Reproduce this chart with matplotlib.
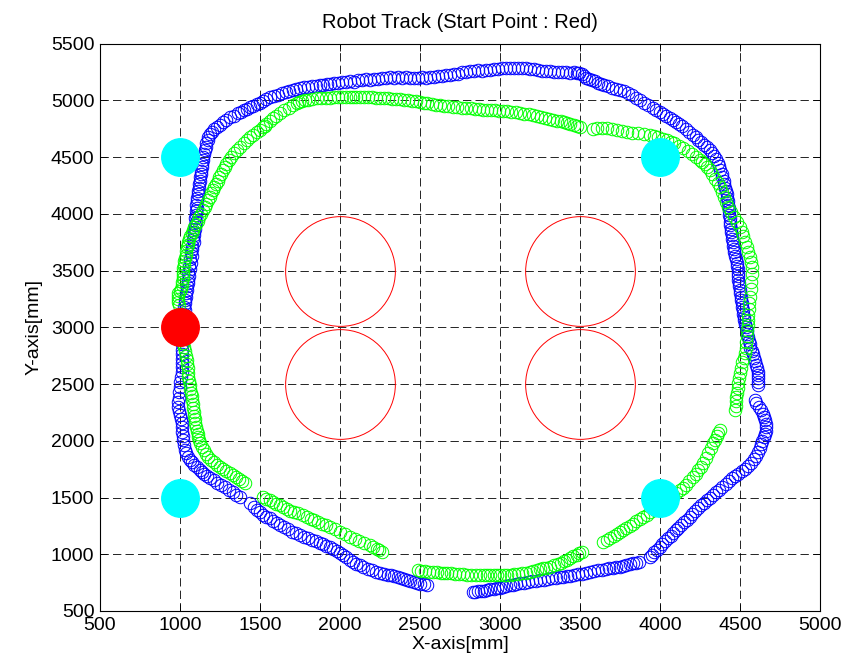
import numpy as np
import matplotlib.pyplot as plt

plt.rcParams['font.family'] = ['Liberation Sans', 'DejaVu Sans']
plt.rcParams['lines.scale_dashes'] = False

# robot track 1 (blue), mm
blue_track = np.array([
    (1015, 3000), (1020, 3030), (1018, 3060), (1026, 3090), (1024, 3120), (1030, 3150),
    (1027, 3180), (1034, 3210), (1031, 3240), (1038, 3270), (1036, 3300), (1044, 3330),
    (1042, 3360), (1050, 3390), (1047, 3420), (1054, 3450), (1053, 3480), (1060, 3510),
    (1058, 3540), (1066, 3570), (1064, 3600), (1072, 3630), (1070, 3660), (1078, 3690),
    (1078, 3720), (1086, 3750), (1083, 3780), (1090, 3810), (1088, 3840), (1095, 3870),
    (1093, 3900), (1099, 3930), (1096, 3960), (1102, 3990), (1099, 4020), (1105, 4050),
    (1102, 4080), (1108, 4110), (1106, 4140), (1113, 4170), (1111, 4200), (1118, 4230),
    (1116, 4260), (1124, 4290), (1122, 4320), (1131, 4350), (1129, 4380), (1138, 4410),
    (1136, 4440), (1146, 4470), (1145, 4500), (1153, 4530), (1154, 4560), (1162, 4590),
    (1163, 4620), (1172, 4650), (1177, 4676), (1188, 4700), (1200, 4720), (1215, 4745),
    (1230, 4764), (1250, 4782), (1270, 4805), (1290, 4825), (1312, 4852), (1335, 4865),
    (1360, 4885), (1380, 4898), (1400, 4915), (1420, 4925), (1437, 4940), (1458, 4950),
    (1480, 4965), (1500, 4978), (1520, 4995), (1540, 5010), (1562, 5029), (1585, 5035),
    (1610, 5050), (1635, 5060), (1660, 5072), (1683, 5080), (1706, 5090), (1728, 5100),
    (1750, 5105), (1775, 5115), (1800, 5118), (1825, 5125), (1850, 5128), (1872, 5135),
    (1894, 5134), (1917, 5142), (1940, 5142), (1965, 5150), (1990, 5150), (2015, 5158),
    (2040, 5158), (2065, 5166), (2090, 5165), (2115, 5175), (2140, 5175), (2165, 5183),
    (2190, 5182), (2215, 5190), (2240, 5190), (2265, 5197), (2290, 5196), (2315, 5202),
    (2340, 5200), (2365, 5205), (2390, 5200), (2415, 5203), (2440, 5198), (2465, 5200),
    (2490, 5195), (2515, 5202), (2540, 5200), (2565, 5208), (2590, 5205), (2615, 5215),
    (2640, 5212), (2665, 5222), (2690, 5220), (2715, 5232), (2740, 5230), (2765, 5245),
    (2790, 5245), (2815, 5256), (2840, 5255), (2865, 5265), (2890, 5262), (2915, 5270),
    (2940, 5268), (2965, 5278), (2990, 5275), (3015, 5283), (3040, 5280), (3065, 5286),
    (3090, 5283), (3115, 5285), (3140, 5282), (3165, 5280), (3190, 5275), (3215, 5272),
    (3240, 5265), (3265, 5262), (3290, 5255), (3315, 5255), (3340, 5248), (3365, 5250),
    (3390, 5245), (3415, 5248), (3440, 5243), (3460, 5245), (3480, 5240), (3495, 5238),
    (3510, 5230), (3525, 5215), (3540, 5200), (3558, 5190), (3575, 5175), (3592, 5168),
    (3610, 5155), (3630, 5147), (3650, 5135), (3675, 5125), (3700, 5112), (3725, 5103),
    (3750, 5090), (3775, 5078), (3800, 5060), (3825, 5042), (3850, 5020), (3875, 5003),
    (3900, 4980), (3928, 4960), (3956, 4932), (3978, 4918), (4000, 4895), (4020, 4880),
    (4040, 4860), (4060, 4845), (4081, 4826), (4100, 4810), (4120, 4790), (4140, 4770),
    (4160, 4745), (4183, 4722), (4206, 4694), (4223, 4675), (4240, 4650), (4258, 4630),
    (4275, 4605), (4293, 4585), (4312, 4562), (4328, 4538), (4340, 4510), (4352, 4480),
    (4360, 4450), (4370, 4418), (4375, 4385), (4385, 4352), (4390, 4320), (4397, 4290),
    (4400, 4260), (4407, 4230), (4410, 4200), (4417, 4170), (4420, 4140), (4424, 4110),
    (4425, 4080), (4429, 4050), (4430, 4020), (4434, 3990), (4435, 3960), (4439, 3930),
    (4440, 3900), (4444, 3870), (4445, 3840), (4449, 3810), (4450, 3780), (4455, 3750),
    (4456, 3720), (4462, 3690), (4465, 3660), (4471, 3630), (4475, 3600), (4480, 3570),
    (4482, 3540), (4486, 3510), (4487, 3480), (4490, 3450), (4490, 3420), (4494, 3390),
    (4495, 3360), (4499, 3330), (4500, 3300), (4505, 3270), (4508, 3240), (4513, 3210),
    (4515, 3180), (4519, 3150), (4520, 3120), (4524, 3090), (4525, 3060), (4531, 3030),
    (4535, 3000), (4541, 2970), (4545, 2940), (4551, 2910), (4555, 2880), (4561, 2850),
    (4565, 2820), (4574, 2790), (4580, 2760), (4589, 2730), (4595, 2700), (4601, 2670),
    (4605, 2640), (4610, 2610), (4612, 2580), (4615, 2550), (4615, 2520), (4612, 2495),
    (4594, 2359), (4600, 2330), (4620, 2300), (4630, 2270), (4644, 2240), (4650, 2210),
    (4656, 2180), (4660, 2150), (4660, 2120), (4660, 2090), (4656, 2060), (4648, 2030),
    (4640, 2000), (4633, 1970), (4625, 1940), (4613, 1905), (4600, 1870), (4585, 1835),
    (4570, 1800), (4550, 1775), (4530, 1750), (4510, 1730), (4490, 1710), (4470, 1690),
    (4450, 1670), (4430, 1645), (4410, 1620), (4390, 1595), (4370, 1570), (4350, 1545),
    (4330, 1520), (4312, 1500), (4294, 1478), (4275, 1455), (4255, 1430), (4238, 1408),
    (4220, 1385), (4203, 1356), (4187, 1328), (4168, 1304), (4150, 1280), (4133, 1258),
    (4115, 1235), (4098, 1211), (4081, 1187), (4066, 1163), (4050, 1140), (4032, 1115),
    (4015, 1090), (3998, 1063), (3981, 1037), (3965, 1016), (3950, 995), (3937, 976),
    (3870, 935), (3850, 920), (3831, 922), (3810, 910), (3790, 905), (3770, 895),
    (3750, 890), (3728, 885), (3706, 879), (3683, 875), (3660, 868), (3635, 865),
    (3610, 858), (3586, 852), (3562, 844), (3536, 838), (3510, 830), (3485, 823),
    (3460, 815), (3440, 812), (3420, 805), (3394, 800), (3372, 796), (3350, 790),
    (3325, 787), (3300, 780), (3275, 776), (3250, 770), (3225, 766), (3200, 760),
    (3175, 756), (3150, 750), (3125, 743), (3100, 735), (3080, 731), (3060, 725),
    (3040, 718), (3019, 711), (3000, 706), (2980, 700), (2960, 696), (2940, 690),
    (2920, 685), (2900, 680), (2880, 676), (2860, 672), (2845, 668), (2831, 667),
    (2544, 729), (2522, 735), (2500, 740), (2480, 748), (2460, 755), (2440, 764),
    (2419, 773), (2400, 782), (2380, 790), (2360, 798), (2340, 805), (2320, 813),
    (2300, 820), (2275, 828), (2250, 835), (2225, 847), (2200, 858), (2172, 873),
    (2144, 888), (2122, 902), (2100, 915), (2080, 932), (2060, 950), (2040, 972),
    (2019, 993), (2000, 1012), (1980, 1030), (1958, 1048), (1937, 1064), (1915, 1077),
    (1894, 1090), (1872, 1103), (1850, 1115), (1825, 1128), (1800, 1140), (1775, 1155),
    (1750, 1170), (1725, 1185), (1700, 1200), (1675, 1220), (1650, 1240), (1628, 1258),
    (1606, 1275), (1583, 1295), (1560, 1315), (1540, 1332), (1520, 1350), (1500, 1370),
    (1481, 1390), (1460, 1420), (1437, 1452),
    (1375, 1504), (1352, 1525), (1330, 1545), (1305, 1568), (1280, 1590), (1255, 1610),
    (1231, 1628), (1210, 1650), (1190, 1670), (1170, 1690), (1150, 1710), (1138, 1726),
    (1125, 1742), (1108, 1766), (1090, 1790), (1075, 1810), (1060, 1830), (1050, 1857),
    (1040, 1890), (1030, 1920), (1024, 1965), (1019, 2007), (1017, 2045), (1015, 2080),
    (1014, 2120), (1012, 2156), (1005, 2195), (1000, 2230), (994, 2265), (989, 2297),
    (990, 2340), (992, 2380), (996, 2430), (1000, 2474), (1002, 2515), (1005, 2560),
    (1010, 2605), (1012, 2650), (1012, 2685), (1012, 2720), (1012, 2760), (1012, 2800),
    (1014, 2850), (1015, 2900), (1015, 2950),
])

# robot track 2 (green)
green_track = np.array([
    (1010, 3000), (1012, 2965), (1015, 2930), (1017, 2895), (1019, 2861), (1025, 2825),
    (1030, 2790), (1037, 2750), (1044, 2711), (1046, 2675), (1047, 2640), (1049, 2600),
    (1050, 2562), (1055, 2525), (1060, 2490), (1064, 2455), (1068, 2420), (1072, 2390),
    (1075, 2359), (1079, 2325), (1082, 2290), (1085, 2255), (1088, 2220), (1091, 2188),
    (1094, 2156), (1100, 2123), (1105, 2090), (1110, 2060), (1115, 2030), (1120, 2005),
    (1125, 1980), (1138, 1947), (1150, 1915), (1163, 1886), (1177, 1857), (1193, 1833),
    (1210, 1810), (1230, 1790), (1250, 1769), (1270, 1752), (1290, 1735), (1310, 1716),
    (1331, 1698), (1350, 1682), (1370, 1665), (1388, 1646), (1406, 1628),
    (1519, 1504), (1540, 1490), (1560, 1475), (1580, 1460), (1600, 1445), (1622, 1430),
    (1644, 1416), (1667, 1400), (1690, 1385), (1715, 1372), (1740, 1360), (1767, 1344),
    (1794, 1328), (1817, 1314), (1840, 1300), (1865, 1285), (1890, 1270), (1913, 1255),
    (1937, 1240), (1968, 1222), (2000, 1200), (2031, 1176), (2062, 1152), (2091, 1136),
    (2120, 1120), (2153, 1100), (2187, 1081), (2208, 1065), (2230, 1050), (2246, 1035),
    (2262, 1020),
    (2487, 861), (2508, 855), (2530, 850), (2555, 847), (2580, 845), (2605, 841),
    (2630, 838), (2650, 836), (2669, 835), (2695, 831), (2720, 828), (2745, 825),
    (2770, 822), (2795, 820), (2820, 818), (2848, 817), (2875, 817), (2898, 816),
    (2920, 815), (2940, 815), (2960, 815), (2980, 815), (3000, 816), (3022, 816),
    (3044, 817), (3067, 821), (3090, 825), (3115, 830), (3140, 835), (3163, 839),
    (3187, 844), (3208, 852), (3230, 860), (3250, 867), (3270, 875), (3290, 881),
    (3312, 888), (3336, 901), (3360, 915), (3380, 927), (3400, 940), (3418, 953),
    (3437, 967), (3458, 981), (3480, 995), (3496, 1008), (3512, 1020),
    (3644, 1108), (3667, 1124), (3690, 1140), (3710, 1160), (3730, 1180), (3750, 1197),
    (3769, 1214), (3790, 1232), (3810, 1250), (3830, 1270), (3850, 1290), (3872, 1309),
    (3894, 1328), (3917, 1349), (3940, 1370), (3970, 1393), (4000, 1416), (4020, 1438),
    (4040, 1460), (4060, 1485), (4080, 1510), (4103, 1538), (4125, 1566), (4143, 1588),
    (4160, 1610), (4183, 1645), (4206, 1681), (4223, 1710), (4240, 1740), (4255, 1772),
    (4269, 1804), (4285, 1847), (4300, 1890), (4316, 1935), (4331, 1980), (4343, 2010),
    (4355, 2040), (4365, 2068), (4375, 2095),
    (4469, 2271), (4472, 2310), (4475, 2350), (4478, 2385), (4481, 2421), (4486, 2465),
    (4490, 2510), (4495, 2553), (4500, 2597), (4508, 2643), (4515, 2690), (4523, 2731),
    (4531, 2773), (4536, 2821), (4540, 2870), (4542, 2923), (4544, 2976), (4547, 3020),
    (4550, 3064), (4553, 3112), (4556, 3160), (4559, 3213), (4562, 3267), (4566, 3333),
    (4570, 3400), (4573, 3465), (4575, 3531), (4568, 3575), (4560, 3620), (4552, 3663),
    (4544, 3707), (4532, 3753), (4520, 3800), (4510, 3841), (4500, 3883), (4480, 3926),
    (4460, 3970), (4443, 4014), (4425, 4059), (4413, 4104), (4400, 4150), (4388, 4192),
    (4375, 4235), (4360, 4272), (4345, 4310), (4328, 4347), (4312, 4385), (4296, 4410),
    (4280, 4435), (4265, 4455), (4250, 4474), (4225, 4502), (4200, 4530), (4172, 4555),
    (4144, 4579), (4117, 4600), (4090, 4620), (4067, 4635), (4044, 4650), (4017, 4663),
    (3990, 4675), (3964, 4685), (3937, 4694), (3898, 4702), (3860, 4710), (3827, 4715),
    (3794, 4720), (3762, 4730), (3730, 4740), (3700, 4748), (3669, 4755), (3638, 4757),
    (3606, 4755), (3580, 4750),
    (3500, 4764), (3480, 4772), (3460, 4780), (3440, 4790), (3420, 4800), (3400, 4808),
    (3380, 4815), (3355, 4820), (3331, 4826), (3305, 4836), (3280, 4845), (3255, 4853),
    (3230, 4860), (3205, 4868), (3180, 4875), (3152, 4882), (3125, 4888), (3098, 4893),
    (3070, 4898), (3045, 4902), (3020, 4905), (2995, 4908), (2970, 4910), (2945, 4912),
    (2919, 4914), (2895, 4917), (2870, 4920), (2845, 4924), (2820, 4928), (2790, 4932),
    (2760, 4935), (2733, 4938), (2706, 4940), (2678, 4945), (2650, 4950), (2625, 4955),
    (2600, 4960), (2572, 4968), (2544, 4976), (2522, 4980), (2500, 4985), (2475, 4990),
    (2450, 4995), (2425, 5000), (2400, 5005), (2375, 5009), (2350, 5012), (2325, 5015),
    (2300, 5018), (2275, 5020), (2250, 5022), (2225, 5024), (2200, 5026), (2175, 5028),
    (2150, 5030), (2125, 5031), (2100, 5031), (2080, 5030), (2062, 5029), (2036, 5030),
    (2010, 5030), (1985, 5028), (1960, 5025), (1935, 5023), (1910, 5022), (1883, 5021),
    (1856, 5020), (1828, 5013), (1800, 5005), (1780, 4998), (1760, 4990), (1745, 4983),
    (1731, 4976), (1705, 4955), (1680, 4935), (1652, 4912), (1625, 4888), (1602, 4864),
    (1580, 4840), (1560, 4815), (1540, 4790), (1529, 4777), (1519, 4764), (1500, 4742),
    (1480, 4720), (1458, 4698), (1437, 4676), (1418, 4648), (1400, 4620), (1378, 4591),
    (1356, 4562), (1338, 4531), (1320, 4500), (1305, 4470), (1290, 4440), (1279, 4412),
    (1269, 4385), (1257, 4352), (1245, 4320), (1235, 4290), (1225, 4260), (1215, 4235),
    (1206, 4209), (1195, 4180), (1185, 4150), (1175, 4120), (1165, 4090), (1155, 4062),
    (1144, 4033), (1132, 4002), (1120, 3970), (1110, 3940), (1100, 3910), (1090, 3883),
    (1081, 3857), (1073, 3828), (1065, 3800), (1057, 3775), (1050, 3750), (1047, 3728),
    (1044, 3707), (1040, 3673), (1035, 3640), (1030, 3610), (1025, 3580), (1022, 3550),
    (1020, 3520), (1020, 3490), (1019, 3460), (1017, 3430), (1015, 3400), (1010, 3370),
    (1005, 3340), (997, 3320), (990, 3300), (987, 3275), (985, 3250), (990, 3225),
    (995, 3200),
])

# obstacles, landmarks and start point
obstacle_x = [2000, 3500, 2000, 3500]
obstacle_y = [3500, 3500, 2500, 2500]
landmark_x = [1000, 4000, 1000, 4000]
landmark_y = [4500, 4500, 1500, 1500]
start_x = [1000]
start_y = [3000]

fig = plt.figure(figsize=(8.45, 6.7), dpi=100)
ax = fig.add_axes([0.11834, 0.08806, 0.85207, 0.84701])

ax.plot(blue_track[:, 0], blue_track[:, 1], 'o', ms=9, mfc='none', mec=(0, 0, 1), mew=0.7)
ax.plot(green_track[:, 0], green_track[:, 1], 'o', ms=9, mfc='none', mec=(0, 1, 0), mew=0.7)
ax.plot(obstacle_x, obstacle_y, 'o', ms=79, mfc='none', mec='red', mew=0.7)
ax.plot(landmark_x, landmark_y, 'o', ms=27, mfc=(0, 1, 1), mec=(0, 1, 1))
ax.plot(start_x, start_y, 'o', ms=27, mfc='red', mec='red')

ax.set_xlim(500, 5000)
ax.set_ylim(500, 5500)
ax.set_xticks(np.arange(500, 5001, 500))
ax.set_yticks(np.arange(500, 5501, 500))
ax.grid(True, color='black', linestyle=(0, (6, 3)), linewidth=0.6)
ax.set_axisbelow(True)
ax.tick_params(direction='in', top=True, right=True, length=5, width=0.6,
               labelsize=14, pad=4)
for sp in ax.spines.values():
    sp.set_linewidth(0.8)

ax.set_title('Robot Track (Start Point : Red)', fontsize=14.5, pad=11)
ax.set_xlabel('X-axis[mm]', fontsize=14, labelpad=2)
ax.set_ylabel('Y-axis[mm]', fontsize=14, labelpad=6)

plt.savefig('out.png', dpi=100)
